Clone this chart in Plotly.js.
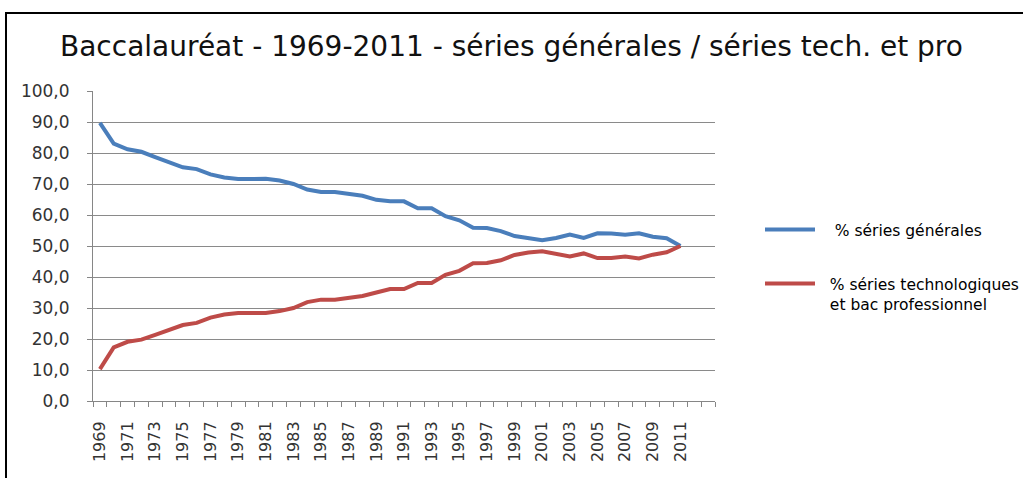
<!DOCTYPE html>
<html>
<head>
<meta charset="utf-8">
<script src="https://cdn.plot.ly/plotly-3.0.1.min.js"></script>
<style>
  html, body { margin: 0; padding: 0; background: #ffffff; overflow: hidden; }
  #wrap { position: relative; width: 1023px; height: 478px; overflow: hidden; }
  #chart { position: absolute; left: 0; top: 0; width: 1023px; height: 478px; }
  #frame { position: absolute; left: 5px; top: 12px; width: 1100px; height: 600px;
           border: 2px solid #000; pointer-events: none; box-sizing: border-box; }
</style>
</head>
<body>
<div id="wrap">
  <div id="chart"></div>
  <div id="frame"></div>
</div>
<script>
// ---- data ----
const years = [1969,1970,1971,1972,1973,1974,1975,1976,1977,1978,
               1979,1980,1981,1982,1983,1984,1985,1986,1987,1988,
               1989,1990,1991,1992,1993,1994,1995,1996,1997,1998,
               1999,2000,2001,2002,2003,2004,2005,2006,2007,2008,
               2009,2010,2011];

const generales = [89.7,83.0,81.2,80.4,78.7,77.0,75.4,74.8,73.1,72.1,
                   71.6,71.6,71.7,71.1,70.0,68.2,67.4,67.4,66.8,66.2,
                   64.9,64.4,64.4,62.2,62.2,59.6,58.3,55.9,55.8,54.8,
                   53.2,52.5,51.9,52.6,53.7,52.6,54.1,54.0,53.6,54.1,
                   53.0,52.5,50.0];

const techPro = [10.3,17.3,19.1,19.8,21.3,22.9,24.5,25.2,26.9,27.9,
                 28.4,28.4,28.4,29.0,30.0,31.9,32.7,32.7,33.3,33.9,
                 35.0,36.1,36.1,38.1,38.1,40.7,42.0,44.4,44.5,45.4,
                 47.1,47.9,48.3,47.5,46.6,47.6,46.1,46.1,46.6,46.0,
                 47.2,48.0,50.0];

// x tick labels: every other year
const xTickYears = [1969,1971,1973,1975,1977,1979,1981,1983,1985,1987,1989,
                    1991,1993,1995,1997,1999,2001,2003,2005,2007,2009,2011];

const seriesNames = ['\u00a0\u00a0\u00a0% séries générales',
                     '\u00a0\u00a0% séries technologiques<br>\u00a0\u00a0et bac professionnel'];
const titleText = 'Baccalauréat - 1969-2011 - séries générales / séries tech. et pro';
const yTicks = [0,10,20,30,40,50,60,70,80,90,100];

// ---- chart ----
const traces = [
  { x: years, y: generales, type: 'scatter', mode: 'lines', name: seriesNames[0],
    line: { color: '#4A7EBB', width: 4 }, legend: 'legend' },
  { x: years, y: techPro, type: 'scatter', mode: 'lines', name: seriesNames[1],
    line: { color: '#BE4B48', width: 4 }, legend: 'legend2' }
];

const gridCol = '#8a8a8a';
const axCol = '#868686';
const xTickFont = { family: 'DejaVu Sans, Verdana, sans-serif', size: 16, color: '#333333' };
const yTickFont = { family: 'DejaVu Sans, Verdana, sans-serif', size: 17, color: '#333333' };
const legFont = { family: 'DejaVu Sans, Verdana, sans-serif', size: 15.5, color: '#000000' };

const layout = {
  width: 1023, height: 478,
  paper_bgcolor: '#ffffff', plot_bgcolor: '#ffffff',
  margin: { l: 93, r: 308, t: 91, b: 77, pad: 0, autoexpand: false },
  separators: ', ',
  showlegend: true,
  title: {
    text: titleText,
    font: { family: 'DejaVu Sans, Verdana, sans-serif', size: 28, color: '#111111' },
    xref: 'container', yref: 'container',
    x: 60 / 1023, xanchor: 'left',
    y: 1 - 46 / 478, yanchor: 'middle'
  },
  xaxis: {
    type: 'linear',
    range: [1968.5, 2013.5],
    tickmode: 'array', tickvals: xTickYears,
    ticks: '',
    tickangle: -90,
    tickfont: xTickFont,
    ticklabelstandoff: 13,
    showgrid: false, zeroline: false,
    showline: true, linecolor: axCol, linewidth: 1,
    minor: { tick0: 1968.5, dtick: 1, ticks: 'outside', ticklen: 5, tickcolor: axCol, tickwidth: 1, showgrid: false },
    automargin: false,
    fixedrange: true
  },
  yaxis: {
    range: [0, 100],
    tickvals: yTicks,
    tickformat: '.1f',
    ticks: 'outside', ticklen: 5, tickcolor: axCol, tickwidth: 1,
    tickfont: yTickFont,
    ticklabelstandoff: 14,
    showgrid: true, gridcolor: gridCol, gridwidth: 1,
    zeroline: false,
    showline: true, linecolor: axCol, linewidth: 1,
    automargin: false,
    fixedrange: true
  },
  legend: {
    x: (760 - 93) / 622, xanchor: 'left',
    y: (401 - 230) / 310, yanchor: 'middle',
    font: legFont, bgcolor: 'rgba(0,0,0,0)', borderwidth: 0,
    itemwidth: 50, valign: 'top'
  },
  legend2: {
    x: (760 - 93) / 622, xanchor: 'left',
    y: (401 - 294) / 310, yanchor: 'middle',
    font: legFont, bgcolor: 'rgba(0,0,0,0)', borderwidth: 0,
    itemwidth: 50, valign: 'top'
  }
};

Plotly.newPlot('chart', traces, layout, { staticPlot: true, displayModeBar: false });
</script>
</body>
</html>
